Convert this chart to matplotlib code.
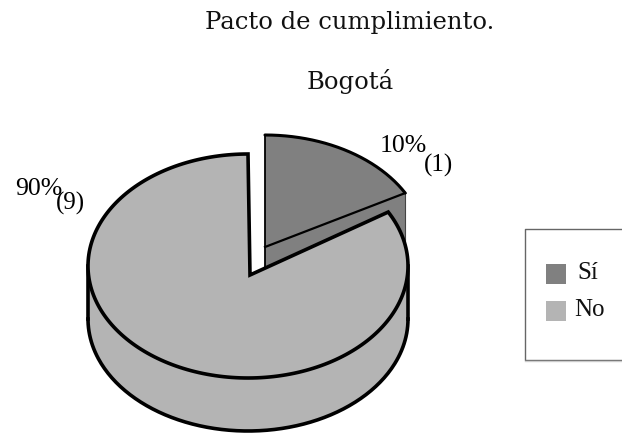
import numpy as np
import matplotlib
matplotlib.use("Agg")
import matplotlib.pyplot as plt
from matplotlib.patches import Polygon, Rectangle

title = "Pacto de cumplimiento."
subtitle = "Bogotá"
categories = ["Sí", "No"]
counts = [1, 9]
percent_labels = ["10%", "90%"]
drawn_shares = [17.0, 83.0]   # share of the circle each slice occupies as drawn
colors = ["#808080", "#b4b4b4"]
W, H = 622, 433

fig = plt.figure(figsize=(W / 100, H / 100), dpi=100, facecolor="white")
ax = fig.add_axes([0, 0, 1, 1])
ax.set_xlim(0, W)
ax.set_ylim(H, 0)
ax.axis("off")

RX, RY, DEPTH = 160, 112, 53
LW = 2.6
sweep = [s / sum(drawn_shares) * 360 for s in drawn_shares]


def arc(cx, cy, a0, a1, n=200):
    t = np.radians(np.linspace(a0, a1, n))
    return np.column_stack([cx + RX * np.sin(t), cy - RY * np.cos(t)])


# --- small slice (Sí), pulled out
sx, sy = 265, 247
a = arc(sx, sy, 0, sweep[0])
tip = np.array([sx, sy])
wall = np.array([tip, a[-1], a[-1] + [0, DEPTH], tip + [0, DEPTH]])
ax.add_patch(Polygon(wall, fc=colors[0], ec="none", zorder=1))
ax.plot(*np.array([a[-1], a[-1] + [0, DEPTH]]).T, color="#444444", lw=0.8, zorder=1)
ax.add_patch(Polygon(np.vstack([tip, a]), fc=colors[0], ec="none", zorder=2))
ax.plot(*np.vstack([tip + [0, 20], tip, a[0]]).T, color="black", lw=1.3, zorder=3)
ax.plot(*np.array([tip, a[-1]]).T, color="black", lw=1.6, zorder=3)
ax.plot(*a.T, color="black", lw=LW - 0.4, zorder=3, solid_capstyle="round")

# --- large slice (No)
bx, by = 248, 266
b = arc(bx, by, sweep[0], 360)
btip = np.array([250, 275])
# body: right-hand extreme round to the left-hand extreme, extruded downwards
front = arc(bx, by, 90, 270)
body = np.vstack([front, (front + [0, DEPTH])[::-1]])
ax.add_patch(Polygon(body, fc=colors[1], ec="none", zorder=4))
ax.plot(*(front + [0, DEPTH]).T, color="black", lw=LW, zorder=5)
for i in (0, -1):
    ax.plot(*np.array([front[i], front[i] + [0, DEPTH]]).T, color="black", lw=LW, zorder=5)
ax.add_patch(Polygon(np.vstack([btip, b]), closed=True, fc=colors[1], ec="black",
                     lw=LW, joinstyle="miter", zorder=6))

# --- text
serif = "DejaVu Serif"
ax.text(350, 22, title, ha="center", va="center", family=serif, fontsize=17.5, color="#111111")
ax.text(350, 81, subtitle, ha="center", va="center", family=serif, fontsize=17.5, color="#111111")
times = "Liberation Serif"
ax.text(380, 146, percent_labels[0], ha="left", va="center", family=times, fontsize=18.5)
ax.text(424, 165, f"({counts[0]})", ha="left", va="center", family=times, fontsize=18)
ax.text(15, 189, percent_labels[1], ha="left", va="center", family=times, fontsize=18.5)
ax.text(56, 203, f"({counts[1]})", ha="left", va="center", family=times, fontsize=18)

# --- legend
ax.plot([622, 524.5, 524.5, 622], [228.5, 228.5, 360, 360], color="#666666", lw=1.0)
ax.plot([524.5, 622], [360.5, 360.5], color="#cccccc", lw=1.0)
legend_y = [274, 311]
legend_x = [577, 574]
for name, col, ly, lx in zip(categories, colors, legend_y, legend_x):
    ax.add_patch(Rectangle((546, ly - 10), 20, 20, fc=col, ec="none"))
    ax.text(lx, ly - 1, name, ha="left", va="center", family=times, fontsize=18, color="#111111")

fig.savefig("out.png", dpi=100, facecolor="white")
